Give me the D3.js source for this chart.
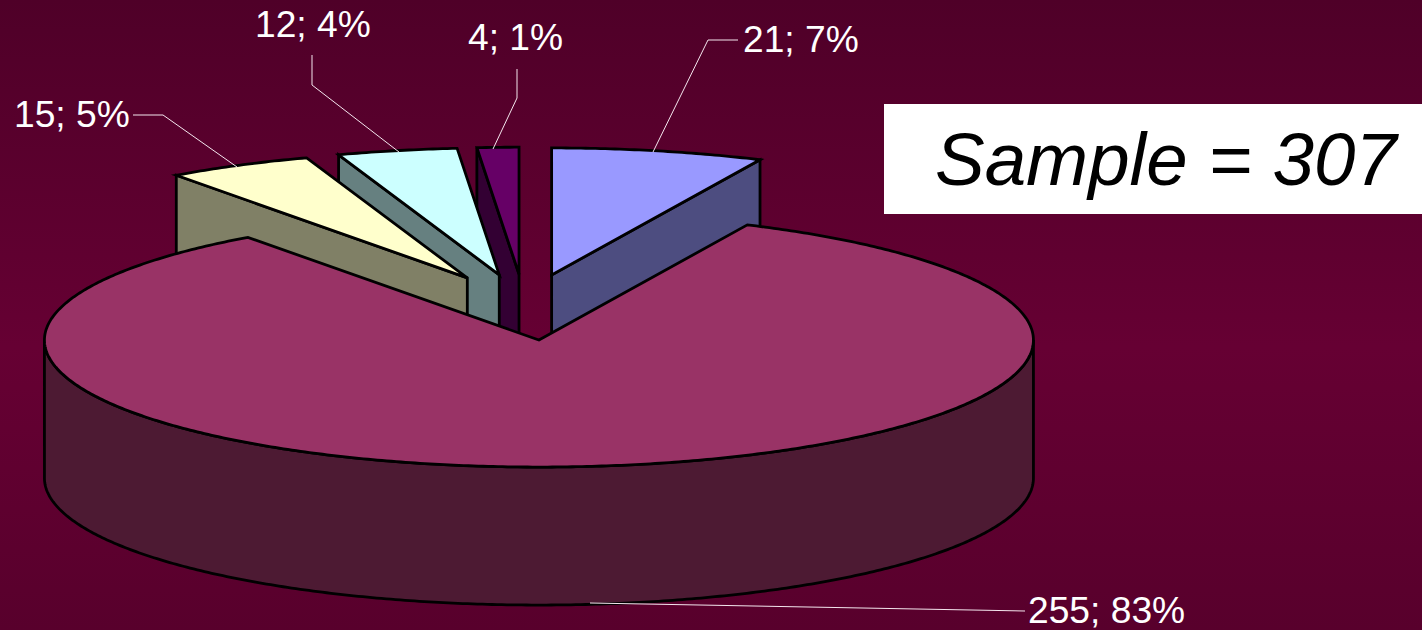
<!DOCTYPE html>
<html>
<head>
<meta charset="utf-8">
<script src="https://d3js.org/d3.v7.min.js"></script>
<style>
  html, body { margin: 0; padding: 0; background: #5c002e; overflow: hidden; }
  svg { display: block; font-family: "Liberation Sans", Arial, sans-serif; }
</style>
</head>
<body>
<div id="canvas"></div>
<script>
"use strict";

/* Data, in pie order (clockwise from 12 o'clock) */
let counts = [21, 255, 15, 12, 4];
let percents = [7, 83, 5, 4, 1];
let topColors = ["#9999ff", "#993366", "#ffffcc", "#ccffff", "#660066"];
let wallColors = ["#4d4d80", "#4d1a33", "#808066", "#668080", "#330033"];
let sampleLabel = "Sample = 307";

/* Configuration variables: drawing */
let svgWidth = 1422;
let svgHeight = 630;
let pieX = 525.8;    // centre before the slices are pulled apart
let pieY = 307.2;
let radiusX = 494.5;
let radiusY = 127;
let depth = 138;
let explode = 0.26;
let nudgeX = [-1.6, 0, 1, -0.4, -1.5];          // the original's perspective shifts slices a little
let edgeNudge = [0, 0.3, 0.3, -0.2, -0.2, 0];   // degrees, same reason, one per slice boundary

/* Where each label sits and how its leader runs, same order as counts */
let labelSpots = [
  { x: 743, y: 52, leader: [[653, 152], [708, 40], [738, 40]] },
  { x: 1028, y: 623, leader: [[590, 603], [1025, 611]] },
  { x: 14, y: 127, leader: [[237, 167], [163, 115], [133, 115]] },
  { x: 255, y: 37, leader: [[399, 152], [312, 85], [312, 55]] },
  { x: 468, y: 50, leader: [[493, 149], [517, 98], [517, 69]] }
];

let svg = d3.select("#canvas")
  .append("svg")
  .attr("width", svgWidth)
  .attr("height", svgHeight);

/* Background: dark at the top, lightest around the middle */
let gradient = svg.append("defs").append("linearGradient")
  .attr("id", "bg")
  .attr("x1", 0).attr("y1", 0).attr("x2", 0).attr("y2", 1);
gradient.append("stop").attr("offset", "0%").attr("stop-color", "#4f0028");
gradient.append("stop").attr("offset", "55%").attr("stop-color", "#660033");
gradient.append("stop").attr("offset", "100%").attr("stop-color", "#58002c");

svg.append("rect")
  .attr("width", svgWidth)
  .attr("height", svgHeight)
  .attr("fill", "url(#bg)");

/* Pie angles come from d3.pie, then get flattened onto an ellipse */
let slices = d3.pie().sort(null)(counts);
let line = d3.line();
let toRad = Math.PI / 180;

function centreOf(s, i) {
  let mid = (s.startAngle + s.endAngle) / 2;
  return [
    pieX + nudgeX[i] + explode * radiusX * Math.sin(mid),
    pieY - explode * radiusY * Math.cos(mid)
  ];
}

function rimPoint(c, angle, drop) {
  return [c[0] + radiusX * Math.sin(angle), c[1] - radiusY * Math.cos(angle) + drop];
}

function rimArc(c, a0, a1, drop) {
  let steps = Math.max(2, Math.ceil(Math.abs(a1 - a0) / 0.01));
  return d3.range(steps + 1).map(i => rimPoint(c, a0 + (a1 - a0) * i / steps, drop));
}

function drawPiece(points, fill) {
  svg.append("path")
    .attr("d", line(points) + "Z")
    .attr("fill", fill)
    .attr("stroke", "black")
    .attr("stroke-width", 2.8)
    .attr("stroke-linejoin", "miter");
}

/* Back slices first, the big slice goes last and covers their walls */
let drawOrder = [0, 4, 3, 2, 1];
drawOrder.forEach(i => {
  let s = slices[i];
  let c = centreOf(s, i);
  let start = s.startAngle + edgeNudge[i] * toRad;
  let end = s.endAngle + edgeNudge[i + 1] * toRad;

  if (i === 1) {
    // big slice: only the front of the rim is seen
    let front = rimArc(c, Math.PI / 2, Math.PI * 1.5, 0);
    let frontLow = rimArc(c, Math.PI * 1.5, Math.PI / 2, depth);
    drawPiece(front.concat(frontLow), wallColors[i]);
  } else {
    // small slices: the cut face towards the viewer
    let edge = i === 0 ? end : start;
    let rim = rimPoint(c, edge, 0);
    drawPiece([c, rim, [rim[0], rim[1] + depth], [c[0], c[1] + depth]], wallColors[i]);
  }

  drawPiece([c].concat(rimArc(c, start, end, 0)), topColors[i]);
});

/* Leaders and labels */
labelSpots.forEach((spot, i) => {
  svg.append("path")
    .attr("d", line(spot.leader))
    .attr("fill", "none")
    .attr("stroke", "#f4e6ee")
    .attr("stroke-width", 1);

  svg.append("text")
    .attr("x", spot.x)
    .attr("y", spot.y)
    .attr("fill", "white")
    .attr("font-size", 37.2)
    .text(counts[i] + "; " + percents[i] + "%");
});

/* Sample size box */
svg.append("rect")
  .attr("x", 884)
  .attr("y", 104)
  .attr("width", 538)
  .attr("height", 110)
  .attr("fill", "white");

svg.append("text")
  .attr("x", 935)
  .attr("y", 185)
  .attr("fill", "black")
  .attr("font-size", 74.5)
  .attr("font-style", "italic")
  .text(sampleLabel);
</script>
</body>
</html>
